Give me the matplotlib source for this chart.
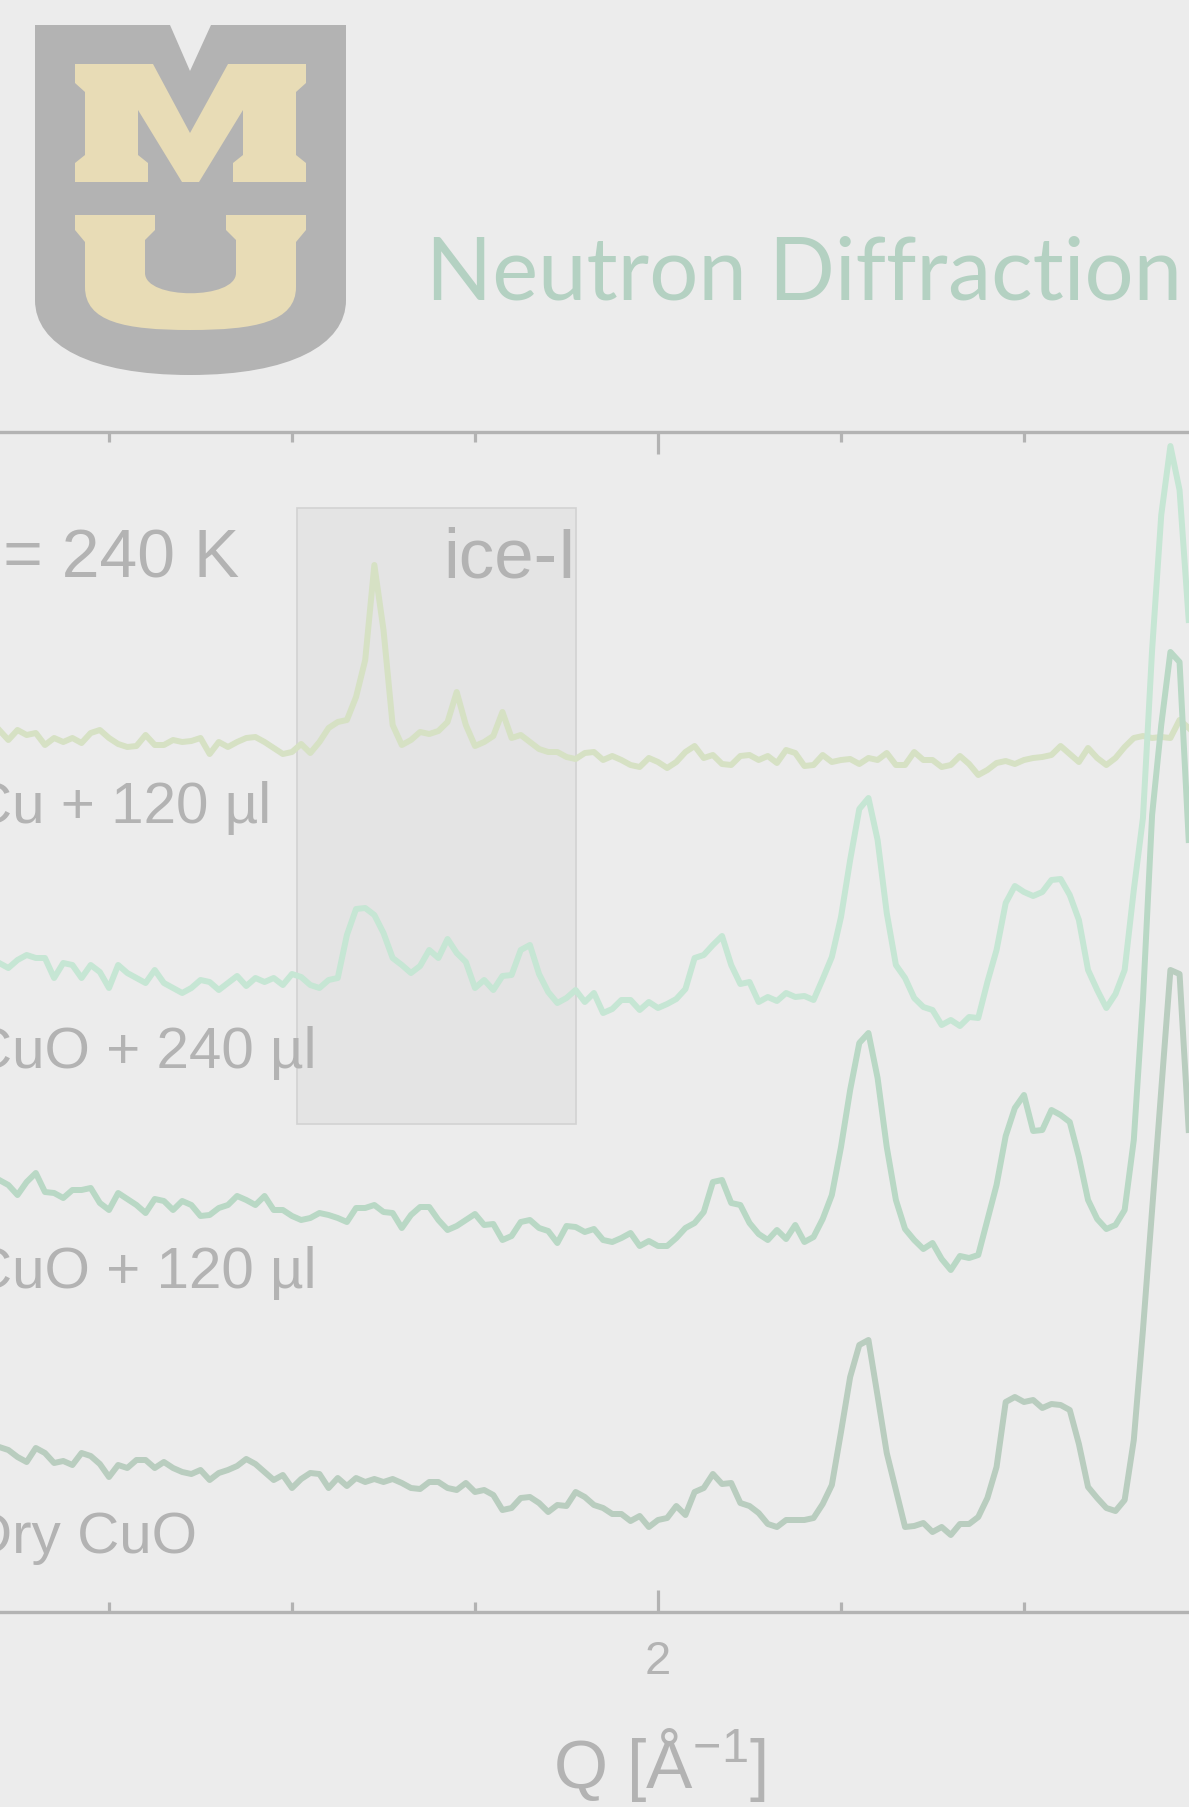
import numpy as np
import matplotlib
matplotlib.use('Agg')
import matplotlib.pyplot as plt
from matplotlib.patches import Rectangle, PathPatch, Polygon
from matplotlib.path import Path
from matplotlib.ticker import MultipleLocator

# Q grid of the scans: start and step in 1/Angstrom
q_start = 1.28
q_step = 0.01

# stacked intensities (arb. units, offsets included)
cu_120 = [88.2, 87.2, 88.2, 87.7, 87.9, 86.7, 87.4, 87.0, 87.4, 86.9,
          87.9, 88.2, 87.4, 86.8, 86.5, 86.6, 87.7, 86.7, 86.7, 87.2,
          87.0, 87.1, 87.4, 85.8, 87.0, 86.5, 87.0, 87.4, 87.5, 87.0,
          86.4, 85.8, 86.0, 86.8, 85.9, 87.0, 88.4, 89.0, 89.2, 91.5,
          95.2, 104.7, 98.2, 88.7, 86.7, 87.2, 88.0, 87.8, 88.1, 89.0,
          92.0, 88.7, 86.6, 87.0, 87.6, 90.0, 87.4, 87.7, 87.0, 86.3,
          86.0, 86.0, 85.5, 85.3, 85.9, 86.0, 85.2, 85.6, 85.2, 84.7,
          84.5, 85.4, 85.0, 84.4, 85.0, 86.0, 86.6, 85.4, 85.7, 84.8,
          84.7, 85.6, 85.7, 85.2, 85.6, 84.9, 86.2, 85.9, 84.6, 84.7,
          85.7, 85.0, 85.2, 85.3, 84.8, 85.4, 85.2, 85.9, 84.7, 84.7,
          86.0, 85.2, 85.2, 84.5, 84.7, 85.6, 84.8, 83.7, 84.2, 84.9,
          85.1, 84.8, 85.2, 85.4, 85.5, 85.7, 86.6, 85.8, 85.0, 86.4,
          85.4, 84.7, 85.4, 86.5, 87.4, 87.6, 87.4, 87.5, 87.4, 89.2, 88.4]

cuo_240 = [64.9, 64.4, 65.2, 65.7, 65.4, 65.4, 63.4, 64.9, 64.7, 63.4,
           64.7, 64.0, 62.4, 64.7, 63.9, 63.4, 62.9, 64.2, 62.9, 62.4,
           61.9, 62.4, 63.2, 63.0, 62.2, 62.9, 63.6, 62.6, 63.4, 63.0,
           63.4, 62.7, 63.8, 63.5, 62.7, 62.4, 63.2, 63.4, 67.7, 70.3,
           70.4, 69.7, 67.9, 65.4, 64.7, 63.9, 64.6, 66.2, 65.4, 67.3,
           65.9, 65.0, 62.4, 63.2, 62.2, 63.6, 63.7, 66.2, 66.7, 63.8,
           62.0, 60.9, 61.4, 62.2, 61.0, 61.9, 59.9, 60.3, 61.2, 61.2,
           60.2, 61.0, 60.4, 60.8, 61.3, 62.3, 65.4, 65.7, 66.7, 67.6,
           64.7, 62.8, 63.0, 61.0, 61.5, 61.1, 61.9, 61.5, 61.6, 61.2,
           63.3, 65.5, 69.5, 75.2, 80.3, 81.4, 77.2, 69.9, 64.7, 63.4,
           61.4, 60.5, 60.2, 58.7, 59.2, 58.6, 59.5, 59.4, 63.0, 66.2,
           70.9, 72.6, 72.0, 71.6, 72.0, 73.2, 73.3, 71.7, 69.2, 64.2,
           62.2, 60.4, 61.8, 64.2, 72.2, 79.4, 96.2, 109.7, 116.6, 112.2, 99.2]

cuo_120 = [43.2, 42.7, 41.7, 43.0, 43.9, 42.0, 41.9, 41.4, 42.2, 42.2,
           42.4, 40.9, 40.2, 41.9, 41.3, 40.7, 39.9, 41.3, 41.1, 40.2,
           41.1, 40.7, 39.6, 39.7, 40.4, 40.7, 41.6, 41.2, 40.7, 41.6,
           40.2, 40.2, 39.6, 39.2, 39.4, 39.9, 39.7, 39.4, 39.0, 40.4,
           40.4, 40.7, 40.0, 39.9, 38.4, 39.7, 40.5, 40.5, 39.2, 38.2,
           38.6, 39.2, 39.8, 38.7, 38.8, 37.2, 37.6, 39.0, 39.2, 38.4,
           38.1, 36.9, 38.6, 38.5, 38.0, 38.3, 37.2, 37.0, 37.4, 37.9,
           36.6, 37.1, 36.6, 36.6, 37.4, 38.4, 38.9, 40.0, 43.0, 43.2,
           40.9, 40.7, 38.9, 37.8, 37.2, 38.2, 37.3, 38.7, 37.0, 37.5,
           39.3, 41.7, 46.5, 52.2, 56.9, 57.9, 53.4, 46.5, 41.2, 38.3,
           37.2, 36.3, 36.9, 35.3, 34.2, 35.6, 35.4, 35.7, 39.2, 42.7,
           47.6, 50.4, 51.7, 48.1, 48.2, 50.2, 49.7, 49.0, 45.5, 41.2,
           39.3, 38.3, 38.7, 40.2, 47.2, 61.2, 79.7, 88.7, 96.0, 95.0, 77.2]

dry_cuo = [16.5, 16.2, 15.5, 15.0, 16.4, 15.9, 14.9, 15.1, 14.7, 15.9,
           15.6, 14.8, 13.5, 14.7, 14.4, 15.2, 15.2, 14.4, 15.0, 14.4,
           14.0, 13.8, 14.2, 13.2, 13.9, 14.2, 14.6, 15.3, 14.8, 14.0,
           13.2, 13.7, 12.4, 13.3, 13.9, 13.8, 12.4, 13.4, 12.6, 13.4,
           13.0, 13.3, 13.0, 13.3, 12.9, 12.4, 12.3, 13.0, 13.0, 12.4,
           12.2, 12.9, 12.0, 12.2, 11.7, 10.2, 10.4, 11.4, 11.5, 10.9,
           10.0, 10.7, 10.6, 12.0, 11.5, 10.7, 10.4, 9.8, 9.8, 9.1,
           9.6, 8.5, 9.2, 9.4, 10.6, 9.7, 12.0, 12.4, 13.8, 12.8,
           12.9, 10.9, 10.6, 9.9, 8.8, 8.5, 9.2, 9.2, 9.2, 9.4,
           10.8, 12.7, 18.0, 23.5, 26.7, 27.2, 21.6, 15.9, 12.2, 8.5,
           8.6, 8.9, 8.0, 8.5, 7.7, 8.8, 8.8, 9.5, 11.4, 14.5,
           21.0, 21.5, 21.0, 21.2, 20.4, 20.8, 20.7, 20.2, 16.8, 12.5,
           11.4, 10.4, 10.1, 11.2, 17.2, 28.2, 40.2, 52.2, 64.2, 63.8, 48.2]

series = [cu_120, cuo_240, cuo_120, dry_cuo]
colors = ['#d6e1c4', '#c6e6d4', '#b9d8c5', '#b9cdbf']
labels = ['Cu + 120 µl', 'CuO + 240 µl', 'CuO + 120 µl', 'Dry CuO']

# ice-I region of the highlight box
ice_q = (1.606, 1.910)
ice_i = (48.8, 110.4)

grey = '#b3b3b3'
bg = '#ececec'
W, H = 1189, 1807

plt.rcParams['font.family'] = ['Liberation Sans', 'DejaVu Sans']
plt.rcParams['mathtext.default'] = 'regular'

fig = plt.figure(figsize=(W / 100, H / 100), dpi=100, facecolor=bg)
ax = fig.add_axes([-28.25 / W, 195 / H, 1235.25 / W, 1180 / H])
ax.set_facecolor(bg)

q = q_start + q_step * np.arange(len(dry_cuo))
for y, c in zip(series, colors):
    ax.plot(q, y, color=c, lw=4.3, solid_joinstyle='round', zorder=3)

ax.add_patch(Rectangle((ice_q[0], ice_i[0]), ice_q[1] - ice_q[0], ice_i[1] - ice_i[0],
                       facecolor='#e4e4e4', edgecolor='#d2d2d2', lw=1.2, zorder=1))

ax.set_xlim(1.25, 2.6)
ax.set_ylim(0, 118)
ax.set_yticks([])
ax.xaxis.set_major_locator(MultipleLocator(1))
ax.xaxis.set_minor_locator(MultipleLocator(0.2))
ax.tick_params(axis='x', which='both', direction='in', top=True, bottom=True,
               color=grey, width=2.3, labelcolor=grey, labelsize=34, pad=20)
ax.tick_params(axis='x', which='major', length=16)
ax.tick_params(axis='x', which='minor', length=7.5)
for s in ax.spines.values():
    s.set_color(grey)
    s.set_linewidth(2.4)

# axis title, centred under the Q = 2 tick
fig.text(660 / W, 1 - 1788 / H, 'Q [Å$^{-1}$]', fontsize=50, color=grey,
         ha='center', va='baseline')

# annotations
fig.text(-56 / W, 1 - 577 / H, 'T = 240 K', fontsize=49, color=grey, va='baseline')
fig.text(577 / W, 1 - 577 / H, 'ice-I', fontsize=51, color=grey, va='baseline', ha='right')
for lab, yb in zip(labels, [823, 1068, 1288, 1553]):
    fig.text(-30 / W, 1 - yb / H, lab, fontsize=42, color=grey, va='baseline')

fig.text(426 / W, 1 - 299 / H, 'Neutron Diffraction', fontsize=62.5, color='#b4d1c2',
         va='baseline', family=['Lato', 'DejaVu Sans'])

# MU logo
lax = fig.add_axes([0, 0, 1, 1])
lax.set_xlim(0, W)
lax.set_ylim(H, 0)
lax.axis('off')
lax.patch.set_visible(False)

MV, LN, CV, CL = Path.MOVETO, Path.LINETO, Path.CURVE4, Path.CLOSEPOLY
shield = [((35, 25), MV), ((170, 25), LN), ((190, 71), LN), ((211, 25), LN),
          ((346, 25), LN), ((346, 300), LN),
          ((346, 345), CV), ((290, 375), CV), ((190, 375), CV),
          ((90, 375), CV), ((35, 345), CV), ((35, 300), CV),
          ((35, 25), CL)]
v, c = zip(*shield)
lax.add_patch(PathPatch(Path(v, c), facecolor=grey, edgecolor='none'))

m_pts = [(75, 64), (153, 64), (190, 133), (228, 64), (306, 64), (306, 83), (296, 92),
         (296, 155), (306, 163), (306, 182), (233, 182), (233, 163), (243, 155),
         (243, 110), (199, 182), (182, 182), (138, 110), (138, 155), (148, 163),
         (148, 182), (75, 182), (75, 163), (85, 155), (85, 92), (75, 83)]
lax.add_patch(Polygon(m_pts, closed=True, facecolor='#e8dcb6', edgecolor='none'))

u_path = [((75, 215), MV), ((155, 215), LN), ((155, 230), LN), ((145, 240), LN),
          ((145, 273), LN), ((145, 300), CV), ((236, 300), CV), ((236, 273), CV),
          ((236, 240), LN), ((226, 230), LN), ((226, 215), LN), ((306, 215), LN),
          ((306, 230), LN), ((296, 242), LN), ((296, 287), LN),
          ((296, 322), CV), ((255, 330), CV), ((190, 330), CV),
          ((125, 330), CV), ((85, 322), CV), ((85, 287), CV),
          ((85, 242), LN), ((75, 230), LN), ((75, 215), CL)]
v, c = zip(*u_path)
lax.add_patch(PathPatch(Path(v, c), facecolor='#e8dcb6', edgecolor='none'))

fig.savefig('out.png', dpi=100, facecolor=bg)
